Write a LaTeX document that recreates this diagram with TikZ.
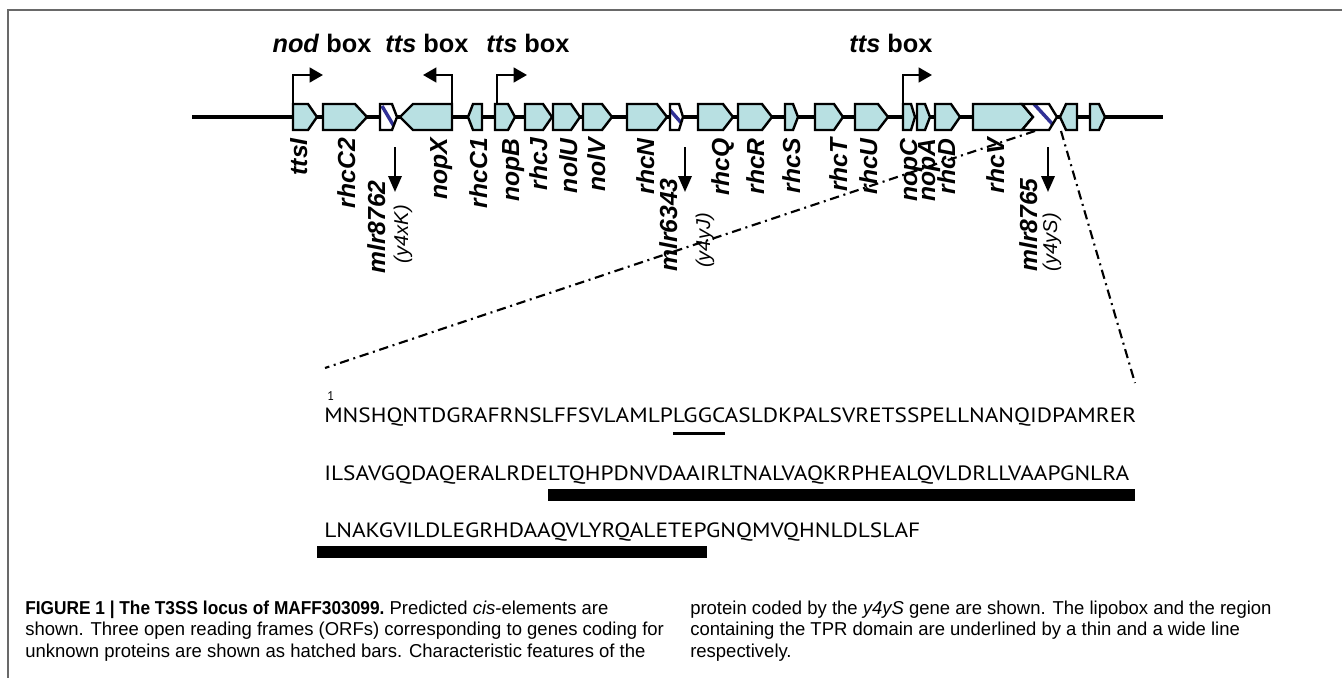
\documentclass[tikz,border=0pt]{standalone}
\usepackage{fontspec}
\setmainfont{Liberation Sans}
\newfontfamily\seqfont{PT Sans}
\usetikzlibrary{arrows.meta}
\definecolor{genefill}{RGB}{184,224,226}
\definecolor{hatchblue}{RGB}{48,48,150}
\definecolor{framegray}{RGB}{105,105,105}
\newlength\seqW
\newlength\capW
\newlength\tmpL
\settowidth\seqW{\seqfont\fontsize{15.5}{18}\selectfont LNAKGVILDLEGRHDAAQVLYRQALETEPGNQMVQHNLDLSLAF}
\settowidth\capW{\fontsize{14}{16}\selectfont shown. Three open reading frames (ORF}
\newcommand\ulthin[1]{\settowidth\tmpL{#1}\rlap{\rule[-9.4pt]{\tmpL}{1.9pt}}#1}
\newcommand\ulthick[1]{\settowidth\tmpL{#1}\addtolength\tmpL{4pt}\rlap{\rule[-15.75pt]{\tmpL}{9pt}}#1}
\newcommand\ulthickb[1]{\settowidth\tmpL{#1}\addtolength\tmpL{5pt}\rlap{\hspace{-5pt}\rule[-15.75pt]{\tmpL}{9pt}}#1}
\newcommand\geneR[4]{\path[gene] (#2,104) -- ({#3-#4},104) -- (#3,117) -- ({#3-#4},130) -- (#2,130) -- cycle; \coordinate (#1) at ({(#2+#3)/2},104);}
\newcommand\geneL[4]{\path[gene] (#2,117) -- ({#2+#4},104) -- (#3,104) -- (#3,130) -- ({#2+#4},130) -- cycle; \coordinate (#1) at ({(#2+#3)/2},104);}
\newcommand\capbold[1]{\scalebox{0.935}[1]{\textbf{#1}}}
\tikzset{
  gene/.style={draw=black, fill=genefill, line width=1.8pt, line join=miter},
  hgene/.style={draw=black, line width=1.8pt, line join=miter},
  stripe/.style={hatchblue, line width=2.6pt},
  backbone/.style={line width=2.6pt},
  prom/.style={line width=1.8pt, -{Triangle[length=10pt,width=11pt]}},
  downarrow/.style={line width=1.8pt, -{Triangle[length=12pt,width=10pt]}},
  hdr/.style={font=\fontsize{19}{22}\selectfont\bfseries, anchor=base, inner sep=0pt},
  glab/.style={font=\fontsize{18.5}{22}\selectfont\bfseries\itshape, rotate=90, anchor=base east, inner sep=0pt},
  ylab/.style={font=\fontsize{15}{18}\selectfont\itshape, rotate=90, anchor=base east, inner sep=0pt},
  zoomline/.style={line width=1.6pt, dash pattern=on 7pt off 3.5pt on 1.5pt off 3.5pt},
  seqtxt/.style={anchor=base west, inner sep=0pt, font=\seqfont\fontsize{15.5}{18}\selectfont},
  captxt/.style={anchor=base west, inner sep=0pt, font=\fontsize{14}{16}\selectfont},
}
\begin{document}
\begin{tikzpicture}[x=0.75pt,y=-0.75pt]
\useasboundingbox (0,0) rectangle (1342,678);
\pgfmathsetmacro\sqx{447/\seqW}
\pgfmathsetmacro\cpx{254/\capW}
% frame
\draw[framegray, line width=1.5pt] (8,678) -- (8,10) -- (1342,10);
% backbone
\coordinate (bbL) at (192,117);
\coordinate (bbR) at (1163,117);
\draw[backbone] (bbL) -- (bbR);
% genes
\geneR{gttsI}{293}{317}{9}
\geneR{grhcC2}{323}{367}{12}
\begin{scope}
  \clip (380,104) -- (392,104) -- (397,117) -- (392,130) -- (380,130) -- cycle;
  \fill[white] (370,100) rectangle (400,135);
  \draw[stripe] (382,106) -- (395,128);
\end{scope}
\draw[hgene] (380,104) -- (392,104) -- (397,117) -- (392,130) -- (380,130) -- cycle;
\geneL{gnopX}{400}{452}{13}
\geneL{grhcC1}{468}{482}{5}
\geneR{gnopB}{495}{515}{7}
\geneR{grhcJ}{525}{552}{9}
\geneR{gnolU}{553}{580}{9}
\geneR{gnolV}{583}{612}{10}
\geneR{grhcN}{627}{667}{10}
\begin{scope}
  \clip (670,104) -- (679,104) -- (683,117) -- (679,130) -- (670,130) -- cycle;
  \fill[white] (665,100) rectangle (690,135);
  \draw[stripe] (670,110) -- (684,126);
\end{scope}
\draw[hgene] (670,104) -- (679,104) -- (683,117) -- (679,130) -- (670,130) -- cycle;
\geneR{grhcQ}{698}{733}{10}
\geneR{grhcR}{738}{772}{10}
\geneR{grhcS}{785}{798}{5}
\geneR{grhcT}{815}{843}{9}
\geneR{grhcU}{855}{888}{10}
\geneR{gnopC}{903}{915}{4}
\geneR{gnopA}{917}{930}{5}
\geneR{grhcD}{935}{960}{9}
\geneR{grhcV}{973}{1033}{11}
\begin{scope}
  \clip (1022,104) -- (1049,104) -- (1057,117) -- (1049,130) -- (1022,130) -- (1033,117) -- cycle;
  \fill[white] (1015,100) rectangle (1065,135);
  \draw[stripe] (1034,104) -- (1056,128);
\end{scope}
\draw[hgene] (1022,104) -- (1049,104) -- (1057,117) -- (1049,130) -- (1022,130) -- (1033,117) -- cycle;
\geneL{gx1}{1060}{1077}{6}
\geneR{gx2}{1090}{1105}{6}
% promoters
\coordinate (p1a) at (293,104); \coordinate (p1b) at (323,75);
\coordinate (p2a) at (452,104); \coordinate (p2b) at (423,75);
\coordinate (p3a) at (497,104); \coordinate (p3b) at (527,75);
\coordinate (p4a) at (903,104); \coordinate (p4b) at (932,75);
\draw[prom] (p1a) |- (p1b);
\draw[prom] (p2a) |- (p2b);
\draw[prom] (p3a) |- (p3b);
\draw[prom] (p4a) |- (p4b);
% headers
\node[hdr] (h1) at (322,52) {\textit{nod} box};
\node[hdr] (h2) at (427,52) {\textit{tts} box};
\node[hdr] (h3) at (528,52) {\textit{tts} box};
\node[hdr] (h4) at (891,52) {\textit{tts} box};
% gene labels
\node[glab] (lttsI) at (307,138) {ttsI};
\node[glab] (lrhcC2) at (355,138) {rhcC2};
\node[glab] (lmlr8762) at (385,180) {mlr8762};
\node[ylab] (ly4xK) at (408,205) {(y4xK)};
\node[glab] (lnopX) at (447,138) {nopX};
\node[glab] (lrhcC1) at (487,138) {rhcC1};
\node[glab] (lnopB) at (519,138) {nopB};
\node[glab] (lrhcJ) at (547,138) {rhcJ};
\node[glab] (lnolU) at (577,138) {nolU};
\node[glab] (lnolV) at (605,138) {nolV};
\node[glab] (lrhcN) at (654,138) {rhcN};
\node[glab] (lmlr6343) at (677,178) {mlr6343};
\node[ylab] (ly4yJ) at (710,213) {(y4yJ)};
\node[glab] (lrhcQ) at (729,138) {rhcQ};
\node[glab] (lrhcR) at (764,138) {rhcR};
\node[glab] (lrhcS) at (800,138) {rhcS};
\node[glab] (lrhcT) at (847,138) {rhcT};
\node[glab] (lrhcU) at (877,138) {rhcU};
\node[glab] (lnopC) at (917,138) {nopC};
\node[glab] (lnopA) at (935,138) {nopA};
\node[glab] (lrhcD) at (955,138) {rhcD};
\node[glab] (lrhcV) at (1004,138) {rhcV};
\node[glab] (lmlr8765) at (1037,178) {mlr8765};
\node[ylab] (ly4yS) at (1057,213) {(y4yS)};
% down arrows
\coordinate (d1a) at (395,147); \coordinate (d1b) at (395,192);
\coordinate (d2a) at (685,147); \coordinate (d2b) at (685,192);
\coordinate (d3a) at (1048,147); \coordinate (d3b) at (1048,192);
\draw[downarrow] (d1a) -- (d1b);
\draw[downarrow] (d2a) -- (d2b);
\draw[downarrow] (d3a) -- (d3b);
% zoom lines
\coordinate (zl0) at (1035,131); \coordinate (zl1) at (325,368);
\coordinate (zr0) at (1061,131); \coordinate (zr1) at (1135,383);
\draw[zoomline] (zl0) -- (zl1);
\draw[zoomline] (zr0) -- (zr1);
% sequence
\node[seqtxt, font=\seqfont\fontsize{9.5}{11}\selectfont] (one) at (327,400) {1};
\node[seqtxt] (seq1) at (324,422) {\scalebox{\sqx}[1]{MNSHQNTDGRAFRNSLFFSVLAMLP\ulthin{LGGC}ASLDKPALSVRETSSPELLNANQIDPAMRER}};
\node[seqtxt] (seq2) at (324,480) {\scalebox{\sqx}[1]{ILSAVGQDAQERALRDE\ulthick{LTQHPDNVDAAIRLTNALVAQKRPHEALQVLDRLLVAAPGNLRA}}};
\node[seqtxt] (seq3) at (324,537) {\scalebox{\sqx}[1]{\ulthickb{LNAKGVILDLEGRHDAAQVLYRQALETEP}GNQMVQHNLDLSLAF}};
% caption
\node[captxt] (c1) at (25,614) {\scalebox{\cpx}[1]{\capbold{FIGURE 1 | The T3SS locus of MAFF303099.} Predicted \textit{cis}-elements are}};
\node[captxt] (c2) at (25,635.5) {\scalebox{\cpx}[1]{shown. Three open reading frames (ORFs) corresponding to genes coding for}};
\node[captxt] (c3) at (25,657) {\scalebox{\cpx}[1]{unknown proteins are shown as hatched bars. Characteristic features of the}};
\node[captxt] (c4) at (690,614) {\scalebox{\cpx}[1]{protein coded by the \textit{y4yS} gene are shown. The lipobox and the region}};
\node[captxt] (c5) at (690,635.5) {\scalebox{\cpx}[1]{containing the TPR domain are underlined by a thin and a wide line}};
\node[captxt] (c6) at (690,657) {\scalebox{\cpx}[1]{respectively.}};
\end{tikzpicture}
\end{document}
